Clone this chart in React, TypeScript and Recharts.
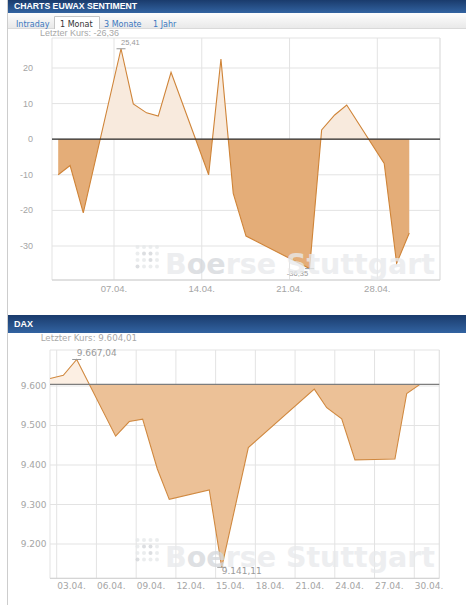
import React from "react";
import {
  ComposedChart,
  Area,
  XAxis,
  YAxis,
  CartesianGrid,
  ReferenceLine,
  ReferenceDot,
} from "recharts";

// EUWAX sentiment, April (x = day of month incl. time of day)
const euwaxDays = [2.55, 3.5, 4.55, 7.56, 8.54, 9.6, 10.53, 11.55, 14.55, 15.53, 16.51, 17.53, 22.6, 23.56, 24.6, 25.56, 28.55, 29.54, 30.55];
const euwaxValues = [-10, -7.4, -20.7, 25.41, 9.9, 7.4, 6.5, 18.8, -10, 22.5, -15.2, -27.2, -36.35, 2.6, 6.8, 9.6, -6.8, -34.9, -26.36];
const euwaxXTicks = [7, 14, 21, 28];
const euwaxYTicks = [-30, -20, -10, 0, 10, 20];
const euwaxBase = 0;

// DAX, April
const daxDays = [2.5, 3.5, 4.51, 7.45, 8.48, 9.49, 10.6, 11.5, 14.52, 15.46, 17.47, 22.45, 23.39, 24.52, 25.52, 27.03, 28.54, 29.43, 30.43];
const daxValues = [9619, 9627, 9667.04, 9473, 9510, 9516, 9390, 9313, 9337, 9141.11, 9444, 9592, 9545, 9517, 9413, 9414, 9415, 9581, 9604.01];
const daxXTicks = [3, 6, 9, 12, 15, 18, 21, 24, 27, 30];
const daxYTicks = [9200, 9300, 9400, 9500, 9600];
const daxLast = 9604.01;

const euwaxData = euwaxDays.map((d, i) => ({ d, v: euwaxValues[i] }));
const daxData = daxDays.map((d, i) => ({ d, v: daxValues[i] }));

const GRID = "#e3e3e3";
const SANS = "'Liberation Sans', Arial, sans-serif";
const DEJA = "'DejaVu Sans', Verdana, sans-serif";

function splitOffset(values: number[], base: number) {
  const max = Math.max(base, ...values);
  const min = Math.min(base, ...values);
  return (max - base) / (max - min);
}

function dayLabel(v: number) {
  return String(v).padStart(2, "0") + ".04.";
}

function thousands(v: number) {
  return Math.floor(v / 1000) + "." + String(v % 1000).padStart(3, "0");
}

const PeakMark = ({ cx, cy, text, below, anchor, font }: any) => (
  <g>
    <line x1={cx - 4.5} x2={cx + 4.5} y1={cy} y2={cy} stroke="#999" strokeWidth={1} />
    <text
      x={anchor === "end" ? cx - 1.5 : cx}
      y={below ? cy + 7 : cy - 4}
      textAnchor={anchor}
      fontSize={font === DEJA ? 9 : 7.5}
      fontFamily={font}
      fill="#999"
    >
      {text}
    </text>
  </g>
);

function SentimentChart() {
  const off = splitOffset(euwaxValues, euwaxBase);
  const peak = euwaxValues.indexOf(Math.max(...euwaxValues));
  const low = euwaxValues.indexOf(Math.min(...euwaxValues));
  return (
    <ComposedChart
      width={466}
      height={300}
      data={euwaxData}
      margin={{ top: 38, right: 26, bottom: 0, left: 0 }}
    >
      <defs>
        <linearGradient id="euwaxFill" x1="0" y1="0" x2="0" y2="1">
          <stop offset={0} stopColor="#f8eadd" />
          <stop offset={off} stopColor="#f8eadd" />
          <stop offset={off} stopColor="#e4ad78" />
          <stop offset={1} stopColor="#e4ad78" />
        </linearGradient>
      </defs>
      <CartesianGrid stroke={GRID} />
      <XAxis
        type="number"
        dataKey="d"
        domain={[2.056, 33]}
        allowDataOverflow
        ticks={euwaxXTicks}
        interval={0}
        height={20}
        stroke="#d0d0d0"
        tickLine={false}
        tickSize={0}
        tickMargin={0}
        tick={({ x, y, payload }: any) => (
          <text x={x} y={y + 8} textAnchor="middle" dominantBaseline="central" fontSize={9.5} fontFamily={SANS} fill="#a5a5a5">
            {dayLabel(payload.value)}
          </text>
        )}
      />
      <YAxis
        type="number"
        domain={[-39.55, 28.43]}
        allowDataOverflow
        ticks={euwaxYTicks}
        interval={0}
        width={52}
        axisLine={false}
        tickLine={false}
        tickSize={0}
        tickMargin={0}
        tick={({ x, y, payload }: any) => (
          <text x={x - 19} y={y} textAnchor="end" dominantBaseline="central" fontSize={9} fontFamily={SANS} fill="#a5a5a5">
            {payload.value}
          </text>
        )}
      />
      <ReferenceLine x={33} stroke={GRID} />
      <Area
        type="linear"
        dataKey="v"
        baseValue={euwaxBase}
        stroke="#cf8438"
        strokeWidth={1.1}
        fill="url(#euwaxFill)"
        fillOpacity={1}
        dot={false}
        activeDot={false}
        isAnimationActive={false}
      />
      <ReferenceLine y={euwaxBase} stroke="#2a2a2a" strokeWidth={1.2} />
      <ReferenceDot
        x={euwaxDays[peak]}
        y={euwaxValues[peak]}
        r={0}
        shape={(p: any) => <PeakMark {...p} text="25,41" anchor="start" font={SANS} />}
      />
      <ReferenceDot
        x={euwaxDays[low]}
        y={euwaxValues[low]}
        r={0}
        shape={(p: any) => <PeakMark {...p} text="-36,35" anchor="end" below font={SANS} />}
      />
    </ComposedChart>
  );
}

function DaxChart() {
  const off = splitOffset(daxValues, daxLast);
  const peak = daxValues.indexOf(Math.max(...daxValues));
  const low = daxValues.indexOf(Math.min(...daxValues));
  return (
    <ComposedChart
      width={466}
      height={270}
      data={daxData}
      margin={{ top: 20, right: 26.7, bottom: 1.7, left: 0 }}
    >
      <defs>
        <linearGradient id="daxFill" x1="0" y1="0" x2="0" y2="1">
          <stop offset={0} stopColor="#fcefe3" />
          <stop offset={off} stopColor="#fcefe3" />
          <stop offset={off} stopColor="#ecc197" />
          <stop offset={1} stopColor="#ecc197" />
        </linearGradient>
      </defs>
      <CartesianGrid stroke={GRID} />
      <XAxis
        type="number"
        dataKey="d"
        domain={[2.494, 31.89]}
        allowDataOverflow
        ticks={daxXTicks}
        interval={0}
        height={20}
        stroke="#d0d0d0"
        tickLine={false}
        tickSize={0}
        tickMargin={0}
        tick={({ x, y, payload }: any) => (
          <text x={x + 0.5} y={y + 8} textAnchor="start" dominantBaseline="central" fontSize={9} fontFamily={DEJA} fill="#a5a5a5">
            {dayLabel(payload.value)}
          </text>
        )}
      />
      <YAxis
        type="number"
        domain={[9113.2, 9691.1]}
        allowDataOverflow
        ticks={daxYTicks}
        interval={0}
        width={50}
        axisLine={false}
        tickLine={false}
        tickSize={0}
        tickMargin={0}
        tick={({ x, y, payload }: any) => (
          <text x={x - 3.5} y={y} textAnchor="end" dominantBaseline="central" fontSize={9} fontFamily={DEJA} fill="#a5a5a5">
            {thousands(payload.value)}
          </text>
        )}
      />
      <ReferenceLine x={31.89} stroke={GRID} />
      <Area
        type="linear"
        dataKey="v"
        baseValue={daxLast}
        stroke="#d08940"
        strokeWidth={1.1}
        fill="url(#daxFill)"
        fillOpacity={1}
        dot={false}
        activeDot={false}
        isAnimationActive={false}
      />
      <ReferenceLine y={daxLast} stroke="#7d7d7d" strokeWidth={1.4} />
      <ReferenceDot
        x={daxDays[peak]}
        y={daxValues[peak]}
        r={0}
        shape={(p: any) => <PeakMark {...p} text="9.667,04" anchor="start" font={DEJA} />}
      />
      <ReferenceDot
        x={daxDays[low]}
        y={daxValues[low]}
        r={0}
        shape={(p: any) => <PeakMark {...p} text="9.141,11" anchor="start" below font={DEJA} />}
      />
    </ComposedChart>
  );
}

const logoDots = [
  [0, 0, 0, 0],
  [0, 1, 1, 0],
  [0, 0, 1, 0],
  [1, 0, 0, 0],
];

function Watermark({ top }: { top: number }) {
  return (
    <svg
      width={466}
      height={60}
      style={{ position: "absolute", left: 0, top: top - 10, pointerEvents: "none" }}
    >
      {logoDots.map((row, r) =>
        row.map((dark, c) => (
          <circle
            key={`${r}-${c}`}
            cx={137.5 + c * 6.5}
            cy={18 + r * 6.5}
            r={2}
            fill={dark ? "#d3d6da" : "#e6e8ea"}
            opacity={0.8}
          />
        ))
      )}
      <text
        x={165}
        y={45}
        fontSize={29}
        fontWeight="bold"
        fontFamily={DEJA}
        textLength={270}
        lengthAdjust="spacingAndGlyphs"
        fill="#e8eaec"
        opacity={0.78}
      >
        B<tspan fill="#d5d8dc">oe</tspan>rse Stuttgart
      </text>
    </svg>
  );
}

function PageFrame() {
  const tab = { fontSize: 8, fontFamily: DEJA, dominantBaseline: "central" as const };
  return (
    <svg width={466} height={605} style={{ position: "absolute", left: 0, top: 0 }}>
      <defs>
        <linearGradient id="hdr" x1="0" y1="0" x2="0" y2="1">
          <stop offset={0} stopColor="#1a3b6c" />
          <stop offset={1} stopColor="#3263a1" />
        </linearGradient>
        <linearGradient id="tabbar" x1="0" y1="0" x2="0" y2="1">
          <stop offset={0} stopColor="#fdfdfd" />
          <stop offset={1} stopColor="#e9e9e9" />
        </linearGradient>
      </defs>
      <rect x={7} y={0} width={1} height={605} fill="#cdcdcd" />

      <rect x={8} y={0} width={458} height={13} fill="url(#hdr)" />
      <text x={14} y={5.8} dominantBaseline="central" fontSize={8.7} fontWeight="bold" fontFamily={SANS} fill="#fff">
        CHARTS EUWAX SENTIMENT
      </text>
      <rect x={8} y={13} width={458} height={15} fill="url(#tabbar)" />
      <rect x={8} y={28} width={458} height={1} fill="#d9d9d9" />
      <path d="M54.5 29 V16.5 H99.5 V29" fill="#fff" stroke="#c6c6c6" />
      <text x={16} y={24} {...tab} fill="#3b78bf">Intraday</text>
      <text x={60} y={24} {...tab} fill="#333">1 Monat</text>
      <text x={104} y={24} {...tab} fill="#3b78bf">3 Monate</text>
      <text x={153} y={24} {...tab} fill="#3b78bf">1 Jahr</text>
      <text x={40} y={33} dominantBaseline="central" fontSize={9} fontFamily={SANS} fill="#a8a8a8">
        Letzter Kurs: -26,36
      </text>

      <rect x={8} y={315} width={458} height={18} fill="url(#hdr)" />
      <text x={14} y={324.3} dominantBaseline="central" fontSize={9} fontWeight="bold" fontFamily={SANS} fill="#fff">
        DAX
      </text>
      <text x={40.7} y={338.3} dominantBaseline="central" fontSize={8.7} fontFamily={DEJA} fill="#a8a8a8">
        Letzter Kurs: 9.604,01
      </text>
    </svg>
  );
}

export default function App() {
  return (
    <div
      style={{
        position: "absolute",
        left: 0,
        top: 0,
        width: 466,
        height: 605,
        background: "#fff",
        overflow: "hidden",
      }}
    >
      <PageFrame />
      <div style={{ position: "absolute", left: 0, top: 0 }}>
        <SentimentChart />
      </div>
      <Watermark top={239} />
      <div style={{ position: "absolute", left: 0, top: 330 }}>
        <DaxChart />
      </div>
      <Watermark top={532} />
    </div>
  );
}
